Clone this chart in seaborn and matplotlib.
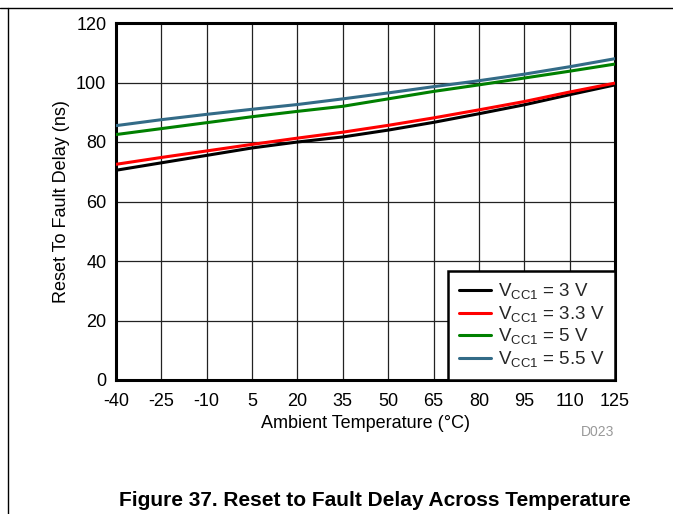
import matplotlib
matplotlib.use("Agg")
import matplotlib.pyplot as plt
import seaborn as sns
import pandas as pd
from matplotlib.lines import Line2D

sns.set_theme(style="white")
plt.rcParams['font.family'] = ['Liberation Sans', 'DejaVu Sans']
plt.rcParams['mathtext.fontset'] = 'custom'
plt.rcParams['mathtext.rm'] = 'Liberation Sans'

temps = [-40, -25, -10, 5, 20, 35, 50, 65, 80, 95, 110, 125]
v3_0 = [70.5, 73.0, 75.5, 78.0, 80.0, 81.7, 84.0, 86.6, 89.5, 92.5, 95.9, 99.2]
v3_3 = [72.5, 74.8, 77.0, 79.2, 81.3, 83.3, 85.6, 88.1, 90.8, 93.6, 96.8, 99.8]
v5_0 = [82.5, 84.5, 86.5, 88.5, 90.3, 92.0, 94.5, 97.0, 99.2, 101.5, 103.8, 106.2]
v5_5 = [85.5, 87.5, 89.3, 91.0, 92.6, 94.5, 96.5, 98.6, 100.6, 102.8, 105.3, 108.0]
labels = ["3 V", "3.3 V", "5 V", "5.5 V"]
colors = ["#000000", "#FF0000", "#008000", "#336B87"]

df = pd.DataFrame({"T": temps * 4,
                   "delay": v3_0 + v3_3 + v5_0 + v5_5,
                   "series": sum([[l] * len(temps) for l in labels], [])})

fig = plt.figure(figsize=(6.73, 5.14), dpi=100)
ax = fig.add_axes([116/673, 1 - 380/514, (615-116)/673, (380-23)/514])

sns.lineplot(data=df, x="T", y="delay", hue="series", hue_order=labels,
             palette=colors, linewidth=2.2, ax=ax, legend=False, zorder=3)

ax.set_xlim(-40, 125)
ax.set_ylim(0, 120)
ax.set_xticks(temps)
ax.set_xticklabels([str(t) for t in temps])
ax.set_yticks(range(0, 121, 20))
ax.grid(True, color="#222222", linewidth=0.9)
ax.set_axisbelow(True)
for s in ax.spines.values():
    s.set_color("black")
    s.set_linewidth(2.2)
ax.tick_params(axis="both", labelsize=13, colors="black", length=0)
ax.tick_params(axis="x", pad=9)
ax.tick_params(axis="y", pad=7)
ax.set_xlabel("Ambient Temperature (°C)", fontsize=13, labelpad=4, color="black")
ax.set_ylabel("Reset To Fault Delay (ns)", fontsize=13, labelpad=4, color="black")

handles = [Line2D([0], [0], color=c, linewidth=2.2) for c in colors]
leg_labels = [r"V$_{\mathrm{CC1}}$ = " + l for l in labels]
leg = ax.legend(handles, leg_labels, loc="lower right", fontsize=13.5,
                frameon=True, fancybox=False, framealpha=1, edgecolor="black",
                borderaxespad=0, handlelength=1.7, handletextpad=0.4,
                labelspacing=0.12, borderpad=0.55)
leg.get_frame().set_linewidth(1.8)

fig.text(598/673, 1 - 432/514, "D023", fontsize=10, color="#999999", ha="center", va="center")
fig.text(375/673, 1 - 501/514, "Figure 37. Reset to Fault Delay Across Temperature",
         fontsize=15, fontweight="bold", ha="center", va="center", color="black")

fig.add_artist(Line2D([0, 1], [1 - 8/514, 1 - 8/514], color="black", linewidth=1, transform=fig.transFigure))
fig.add_artist(Line2D([8/673, 8/673], [0, 1 - 8/514], color="black", linewidth=1, transform=fig.transFigure))

fig.savefig("out.png", dpi=100)
